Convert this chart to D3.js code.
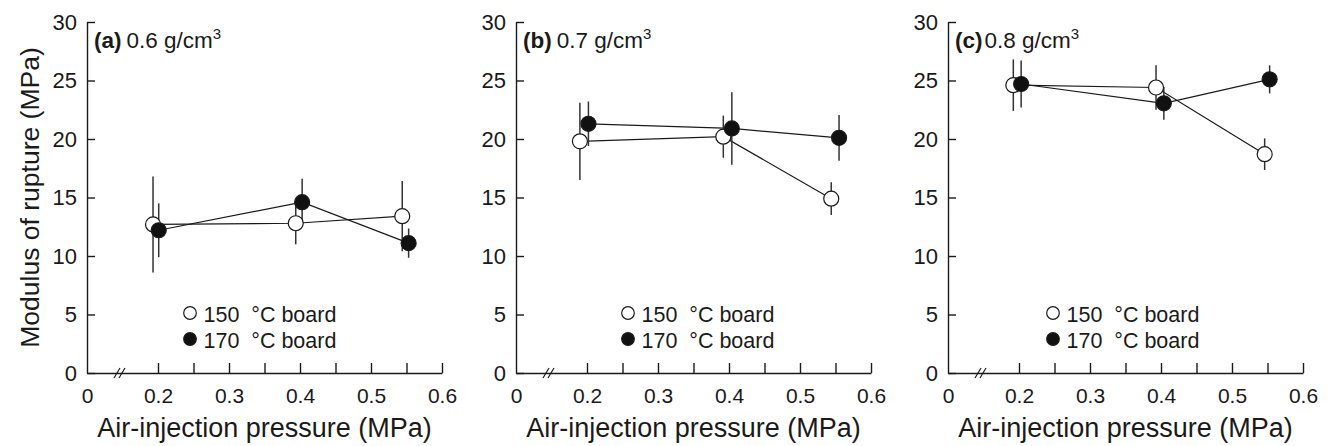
<!DOCTYPE html>
<html>
<head>
<meta charset="utf-8">
<script src="https://cdn.jsdelivr.net/npm/d3@7"></script>
<style>
  body { margin: 0; background: #fff; }
  svg text { font-family: "Liberation Sans", Arial, sans-serif; fill: #1a1a1a; }
</style>
</head>
<body>
<svg id="chart"></svg>
<script>
const width = 1333;
const height = 446;

// panel labels and board densities
const panelLabels = ['(a)', '(b)', '(c)'];
const densities = ['0.6', '0.7', '0.8'];

// 150 °C board (open circles), one row per panel
const x150 = [[0.193, 0.394, 0.544], [0.190, 0.392, 0.544], [0.192, 0.393, 0.546]];
const y150 = [[12.7, 12.8, 13.4], [19.8, 20.2, 14.9], [24.6, 24.4, 18.7]];
const e150 = [[4.1, 1.8, 3.0], [3.3, 1.8, 1.4], [2.2, 1.9, 1.35]];

// 170 °C board (filled circles)
const x170 = [[0.201, 0.403, 0.553], [0.202, 0.404, 0.555], [0.203, 0.404, 0.553]];
const y170 = [[12.2, 14.6, 11.1], [21.3, 20.9, 20.1], [24.7, 23.05, 25.1]];
const e170 = [[2.3, 2.0, 1.25], [1.9, 3.1, 1.95], [2.0, 1.4, 1.2]];

// axis ticks (0.1 is the broken-axis origin, labelled "0")
const xTicks = [0.1, 0.2, 0.25, 0.3, 0.35, 0.4, 0.45, 0.5, 0.55, 0.6];
const yTicks = [0, 5, 10, 15, 20, 25, 30];
const legendLabels = ['150  \u00B0C board', '170  \u00B0C board'];

const origins = [87, 516, 948];
const legendOffsets = [103, 112, 105];
const plotW = 355;
const plotTop = 22;
const plotBottom = 373;

const svg = d3.select('#chart')
  .attr('width', width)
  .attr('height', height);

const yScale = d3.scaleLinear()
  .domain([0, 30])
  .range([plotBottom, plotTop]);

// y title
svg.append('text')
  .attr('transform', `translate(39, ${(plotTop + plotBottom) / 2}) rotate(-90)`)
  .attr('text-anchor', 'middle')
  .style('font-size', '26.5px')
  .text('Modulus of rupture (MPa)');

origins.forEach((ox, i) => {
  const g = svg.append('g');

  const xScale = d3.scaleLinear()
    .domain([0.1, 0.6])
    .range([ox, ox + plotW]);

  // Bottom axis
  const xAxis = g.append('g')
    .attr('transform', `translate(0, ${plotBottom})`)
    .call(d3.axisBottom(xScale)
      .tickValues(xTicks)
      .tickSizeInner(-10)
      .tickSizeOuter(0)
      .tickPadding(15)
      .tickFormat((d) => d === 0.1 ? '0' : (Math.round(d * 100) % 10 === 0 ? d3.format('.1f')(d) : '')));

  // Left axis
  const yAxis = g.append('g')
    .attr('transform', `translate(${ox}, 0)`)
    .call(d3.axisLeft(yScale)
      .tickValues(yTicks)
      .tickSizeInner(-8)
      .tickSizeOuter(0)
      .tickPadding(10));

  [xAxis, yAxis].forEach((ax) => {
    ax.select('.domain').attr('stroke', '#1a1a1a').attr('stroke-width', 1.4);
    ax.selectAll('.tick line').attr('stroke', '#1a1a1a').attr('stroke-width', 1.4);
    ax.selectAll('.tick text')
      .style('font-family', '"Liberation Sans", Arial, sans-serif')
      .attr('fill', '#1a1a1a');
  });
  xAxis.selectAll('.tick text').style('font-size', '21px');
  yAxis.selectAll('.tick text').style('font-size', '22px');
  xAxis.selectAll('.tick').filter((d) => d === 0.1).select('line').remove();

  // axis break mark
  [0, 5].forEach((dx) => {
    g.append('line')
      .attr('x1', ox + 27 + dx).attr('y1', plotBottom + 5)
      .attr('x2', ox + 33 + dx).attr('y2', plotBottom - 5)
      .attr('stroke', '#1a1a1a')
      .attr('stroke-width', 1.2);
  });

  // x title
  g.append('text')
    .attr('x', ox + plotW / 2)
    .attr('y', 437)
    .attr('text-anchor', 'middle')
    .style('font-size', '27px')
    .text('Air-injection pressure (MPa)');

  // panel label
  const lab = g.append('text')
    .attr('x', ox + 7)
    .attr('y', 48)
    .style('font-size', '22.5px');
  lab.append('tspan').style('font-weight', 'bold').text(panelLabels[i]);
  lab.append('tspan').attr('dx', i === 2 ? 2 : 5).text(`${densities[i]} g/cm`);
  lab.append('tspan').attr('dy', -9).style('font-size', '15px').text('3');

  const series = [
    {x: x150[i], y: y150[i], e: e150[i], fill: '#fff'},
    {x: x170[i], y: y170[i], e: e170[i], fill: '#111'}
  ];

  const line = d3.line()
    .x((d) => xScale(d[0]))
    .y((d) => yScale(d[1]));

  series.forEach((s) => {
    g.append('path')
      .datum(d3.zip(s.x, s.y))
      .attr('d', line)
      .attr('fill', 'none')
      .attr('stroke', '#1a1a1a')
      .attr('stroke-width', 1.2);
  });

  series.forEach((s) => {
    g.selectAll(null)
      .data(d3.zip(s.x, s.y, s.e))
      .enter()
      .append('line')
      .attr('x1', (d) => xScale(d[0]))
      .attr('x2', (d) => xScale(d[0]))
      .attr('y1', (d) => yScale(d[1] - d[2]))
      .attr('y2', (d) => yScale(d[1] + d[2]))
      .attr('stroke', '#333')
      .attr('stroke-width', 1.5);
  });

  series.forEach((s) => {
    g.selectAll(null)
      .data(d3.zip(s.x, s.y))
      .enter()
      .append('circle')
      .attr('cx', (d) => xScale(d[0]))
      .attr('cy', (d) => yScale(d[1]))
      .attr('r', 7.5)
      .attr('fill', s.fill)
      .attr('stroke', '#1a1a1a')
      .attr('stroke-width', 1.2);
  });

  // legend
  const lx = ox + legendOffsets[i];
  legendLabels.forEach((t, k) => {
    const ly = 313 + k * 26;
    g.append('circle')
      .attr('cx', lx)
      .attr('cy', ly)
      .attr('r', 6.3)
      .attr('fill', series[k].fill)
      .attr('stroke', '#1a1a1a')
      .attr('stroke-width', 1.2);
    g.append('text')
      .attr('x', lx + 13.5)
      .attr('y', ly + 9)
      .style('font-size', '21.5px')
      .style('white-space', 'pre')
      .text(t);
  });
});
</script>
</body>
</html>
